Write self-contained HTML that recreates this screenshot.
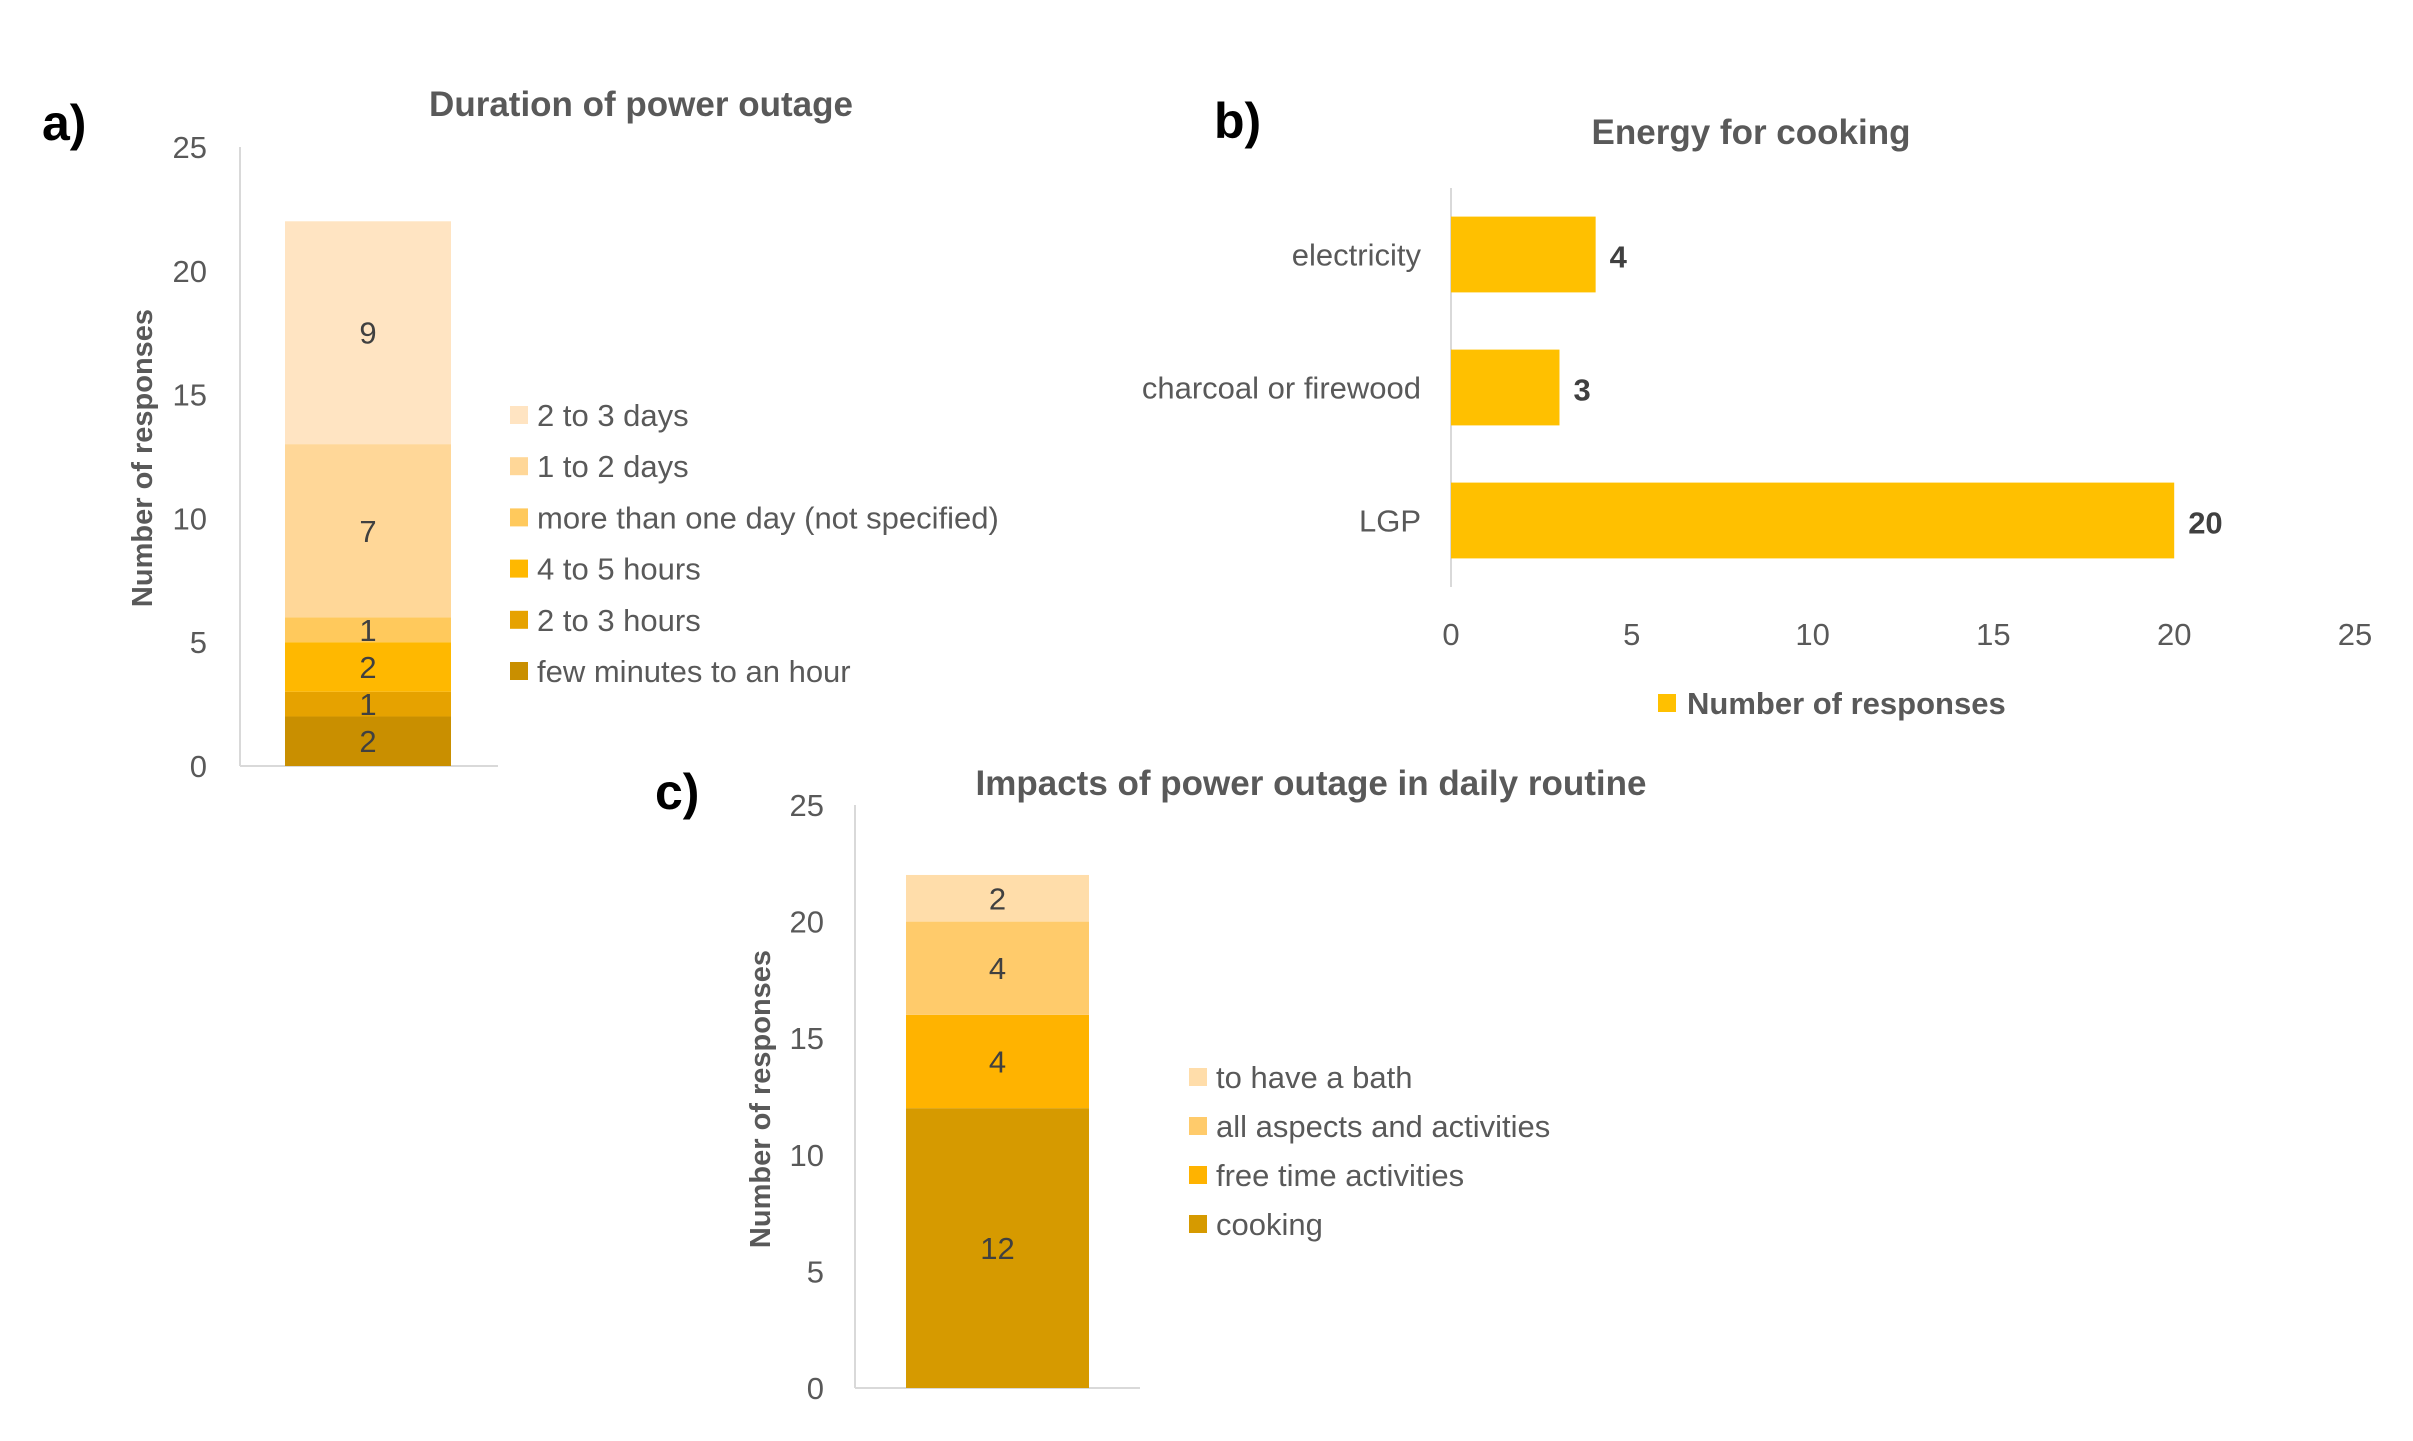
<!DOCTYPE html>
<html><head><meta charset="utf-8"><style>
body{margin:0;background:#fff}
svg{display:block}
text{font-family:"Liberation Sans Narrow","Liberation Sans",sans-serif}
</style></head><body>
<svg id="s" width="2413" height="1441" viewBox="0 0 2413 1441" xmlns="http://www.w3.org/2000/svg">
<rect width="2413" height="1441" fill="#fff"/>
<g id="ga"></g>
<g id="gb" transform="translate(-6,-2)"></g>
<g id="gc" transform="translate(-5,-6)"></g>
</svg>
<script>
// Chart a
const aCategories=["few minutes to an hour","2 to 3 hours","4 to 5 hours","more than one day (not specified)","1 to 2 days","2 to 3 days"];
const aValues=[2,1,2,1,7,9];
const aColors=["#C98F00","#E6A200","#FFB800","#FFC95C","#FFD798","#FFE4C2"];
const aTicks=[0,5,10,15,20,25];
// Chart b
const bCategories=["electricity","charcoal or firewood","LGP"];
const bValues=[4,3,20];
const bTicks=[0,5,10,15,20,25];
// Chart c
const cCategories=["cooking","free time activities","all aspects and activities","to have a bath"];
const cValues=[12,4,4,2];
const cColors=["#D69A00","#FFB300","#FFCB6B","#FFDDAA"];
const cTicks=[0,5,10,15,20,25];

const NS="http://www.w3.org/2000/svg";
function mk(parent,tag,attrs,txt){const e=document.createElementNS(NS,tag);for(const k in attrs)e.setAttribute(k,attrs[k]);if(txt!==undefined)e.textContent=txt;parent.appendChild(e);return e;}

function stacked(g,o){
  const y=v=>o.y0-(o.y0-o.y25)*v/25;
  let t=mk(g,'text',{x:o.lx,y:o.ly,'font-size':50,'font-weight':'bold',fill:'#000'},o.letter);
  
  
  t=mk(g,'text',{x:o.tx,y:o.ty,'font-size':35,'font-weight':'bold',fill:'#595959','text-anchor':'middle'},o.title);
  
  
  let l=mk(g,'line',{x1:o.ax,y1:o.y25,x2:o.ax,y2:o.y0,stroke:'#d9d9d9','stroke-width':2});
  
  
  l=mk(g,'line',{x1:o.ax,y1:o.y0,x2:o.axEnd,y2:o.y0,stroke:'#d9d9d9','stroke-width':2});
  
  
  o.ticks.forEach(v=>{
    const tt=mk(g,'text',{x:o.tickX,y:y(v)+11,'font-size':31,fill:'#595959','text-anchor':'end'},String(v));
    
    
  });
  t=mk(g,'text',{transform:`translate(${o.ytx},${o.yty}) rotate(-90)`,'font-size':29,'font-weight':'bold',fill:'#595959','text-anchor':'middle'},'Number of responses');
  
  
  let cum=0;
  o.vals.forEach((v,i)=>{
    const r=mk(g,'rect',{x:o.bx,y:y(cum+v),width:o.bw,height:y(cum)-y(cum+v),fill:o.colors[i]});
    
    
    const lb=mk(g,'text',{x:o.bx+o.bw/2,y:(y(cum)+y(cum+v))/2+11,'font-size':31,fill:'#404040','text-anchor':'middle'},String(v));
    
    
    cum+=v;
  });
  const n=o.cats.length;
  o.cats.forEach((c,i)=>{
    const row=n-1-i;
    const yy=o.legY+row*o.legStep;
    const sw=mk(g,'rect',{x:o.legX,y:yy-9,width:18,height:18,fill:o.colors[i]});
    
    
    const lt=mk(g,'text',{x:o.legX+27,y:yy+11,'font-size':31,fill:'#595959'},c);
    
    
  });
}

stacked(document.getElementById('ga'),{letter:'a)',lx:42,ly:140,title:'Duration of power outage',tx:641,ty:116,
  ax:240,axEnd:498,y0:766,y25:147,tickX:207,ticks:aTicks,ytx:152,yty:458,bx:285,bw:166,vals:aValues,colors:aColors,
  cats:aCategories,legX:510,legY:415,legStep:51.2});

stacked(document.getElementById('gc'),{letter:'c)',lx:660,ly:815,title:'Impacts of power outage in daily routine',tx:1316,ty:801,
  ax:860,axEnd:1145,y0:1394,y25:811,tickX:829,ticks:cTicks,ytx:775,yty:1105,bx:911,bw:183,vals:cValues,colors:cColors,
  cats:cCategories,legX:1194,legY:1083,legStep:49});

(function(){
  const g=document.getElementById('gb');
  const x0=1457,x25=2361;
  const x=v=>x0+(x25-x0)*v/25;
  const top=190,bottom=589;
  const band=(bottom-top)/bCategories.length;
  let t=mk(g,'text',{x:1220,y:140,'font-size':50,'font-weight':'bold',fill:'#000'},'b)');
  
  
  t=mk(g,'text',{x:1757,y:146,'font-size':35,'font-weight':'bold',fill:'#595959','text-anchor':'middle'},'Energy for cooking');
  
  
  const l=mk(g,'line',{x1:x0,y1:top,x2:x0,y2:bottom,stroke:'#d9d9d9','stroke-width':2});
  
  
  bTicks.forEach(v=>{
    const tt=mk(g,'text',{x:x(v),y:647,'font-size':31,fill:'#595959','text-anchor':'middle'},String(v));
    
    
  });
  bCategories.forEach((c,i)=>{
    const cy=top+band*(i+0.5);
    const bh=band*0.57;
    const r=mk(g,'rect',{x:x0,y:cy-bh/2,width:x(bValues[i])-x0,height:bh,fill:'#FFC000'});
    
    
    const cl=mk(g,'text',{x:1427,y:cy+11,'font-size':31,fill:'#595959','text-anchor':'end'},c);
    
    
    const vl=mk(g,'text',{x:x(bValues[i])+14,y:cy+13,'font-size':31,'font-weight':'bold',fill:'#404040'},String(bValues[i]));
    
    
  });
  const sw=mk(g,'rect',{x:1664,y:696,width:18,height:18,fill:'#FFC000'});
  
  
  const lt=mk(g,'text',{x:1693,y:716,'font-size':31,'font-weight':'bold',fill:'#595959'},'Number of responses');
  
  
})();
</script>
</body></html>
